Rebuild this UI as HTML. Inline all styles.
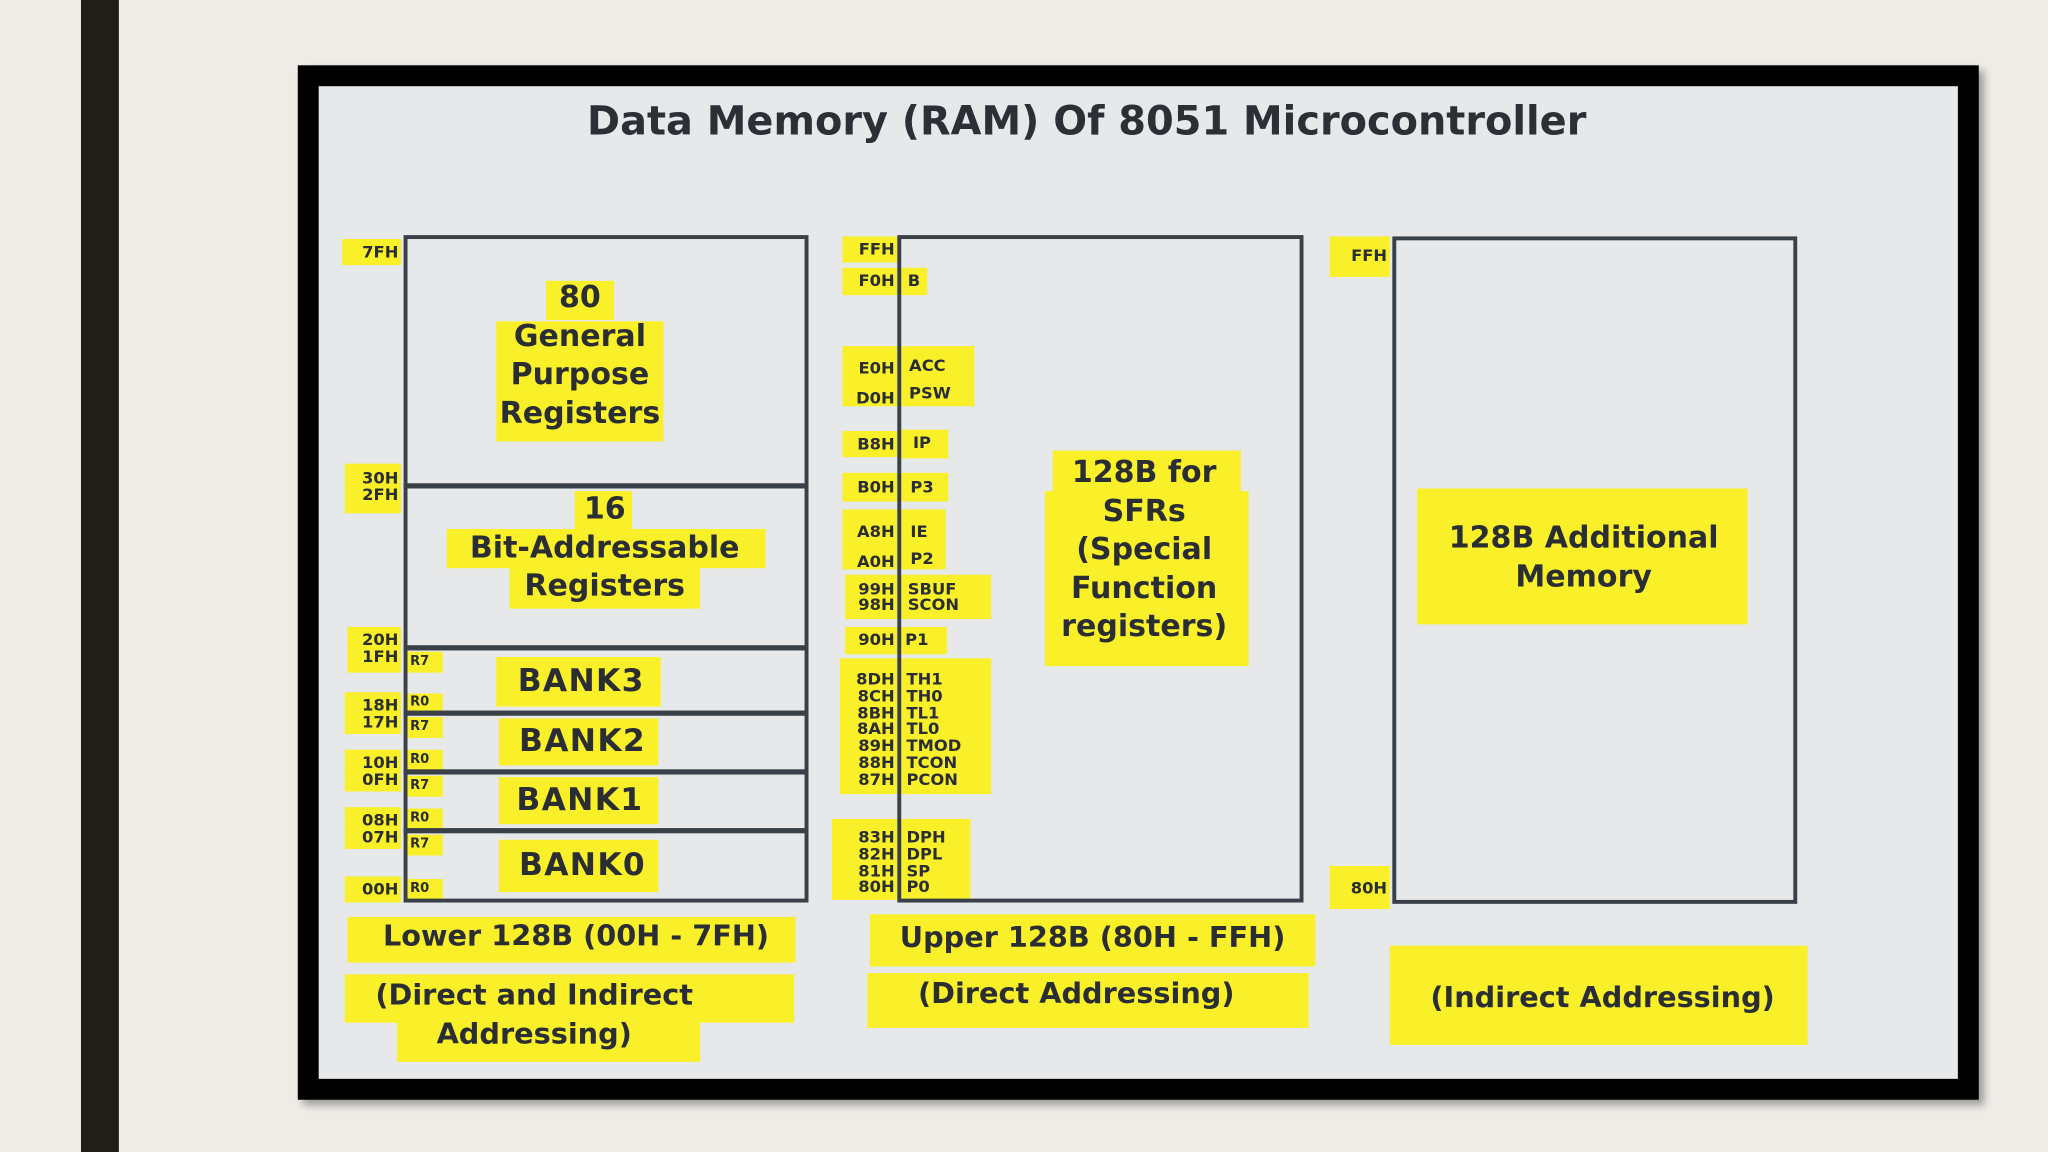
<!DOCTYPE html>
<html><head><meta charset="utf-8"><style>
html,body{margin:0;padding:0;width:2048px;height:1152px;overflow:hidden;background:#efece7;}
#s{position:absolute;left:0;top:0;width:1568px;height:882px;transform:scale(1.30612);transform-origin:0 0;font-family:"DejaVu Sans","Liberation Sans",sans-serif;font-weight:bold;color:#2a2e33;}
.a{position:absolute;}
.y{position:absolute;background:#f9f02a;box-sizing:border-box;}
.t{position:absolute;text-align:center;white-space:nowrap;}
.box{position:absolute;border:3px solid #394047;box-sizing:border-box;}
.hl{position:absolute;height:4px;background:#394047;}
.sm{position:absolute;font-size:12.5px;line-height:12.5px;text-align:right;white-space:pre;}
.sl{position:absolute;font-size:12.5px;line-height:12.5px;text-align:left;white-space:pre;}
.r{position:absolute;font-size:10px;line-height:10px;}
</style></head><body><div id="s">
<div class="a" style="left:62px;top:0;width:29px;height:882px;background:#1f1e17"></div>
<div class="a" style="left:228px;top:50px;width:1287px;height:792px;background:#000;box-shadow:4px 4px 6px rgba(0,0,0,.35)"></div>
<div class="a" style="left:244px;top:66px;width:1255px;height:760px;background:#e6e8ea"></div>
<div class="t" style="left:244px;width:1176px;top:76px;font-size:30.5px;line-height:36px;color:#2b2f36">Data Memory (RAM) Of 8051 Microcontroller</div>

<!-- LEFT -->
<div class="y" style="left:262px;top:183px;width:45px;height:20px"></div><div class="sm" style="left:262px;width:43px;top:187px">7FH</div>
<div class="y" style="left:264px;top:355px;width:43px;height:38px"></div><div class="sm" style="left:264px;width:41px;top:360px">30H
2FH</div>
<div class="y" style="left:266px;top:480px;width:41px;height:35px"></div><div class="sm" style="left:266px;width:39px;top:484px">20H
1FH</div>
<div class="y" style="left:264px;top:530px;width:43px;height:32px"></div><div class="sm" style="left:264px;width:41px;top:534px">18H
17H</div>
<div class="y" style="left:264px;top:574px;width:43px;height:32px"></div><div class="sm" style="left:264px;width:41px;top:578px">10H
0FH</div>
<div class="y" style="left:264px;top:618px;width:43px;height:32px"></div><div class="sm" style="left:264px;width:41px;top:622px">08H
07H</div>
<div class="y" style="left:264px;top:671px;width:43px;height:20px"></div><div class="sm" style="left:264px;width:41px;top:675px">00H</div>
<div class="y" style="left:311px;top:499px;width:28px;height:16px"></div><div class="r" style="left:314px;top:502px">R7</div>
<div class="y" style="left:311px;top:531px;width:28px;height:14px"></div><div class="r" style="left:314px;top:533px">R0</div>
<div class="y" style="left:311px;top:549px;width:28px;height:16px"></div><div class="r" style="left:314px;top:552px">R7</div>
<div class="y" style="left:311px;top:574px;width:28px;height:16px"></div><div class="r" style="left:314px;top:577px">R0</div>
<div class="y" style="left:311px;top:594px;width:28px;height:16px"></div><div class="r" style="left:314px;top:597px">R7</div>
<div class="y" style="left:311px;top:619px;width:28px;height:16px"></div><div class="r" style="left:314px;top:622px">R0</div>
<div class="y" style="left:311px;top:639px;width:28px;height:16px"></div><div class="r" style="left:314px;top:642px">R7</div>
<div class="y" style="left:311px;top:673px;width:28px;height:16px"></div><div class="r" style="left:314px;top:676px">R0</div>

<div class="box" style="left:309px;top:180px;width:310px;height:511px"></div>
<div class="hl" style="left:309px;top:370px;width:310px"></div>
<div class="hl" style="left:309px;top:494px;width:310px"></div>
<div class="hl" style="left:309px;top:544px;width:310px"></div>
<div class="hl" style="left:309px;top:589px;width:310px"></div>
<div class="hl" style="left:309px;top:634px;width:310px"></div>

<div class="y" style="left:418px;top:215px;width:52px;height:30px"></div>
<div class="y" style="left:380px;top:246px;width:128px;height:92px"></div>
<div class="t" style="left:330px;width:228px;top:214px;font-size:23px;line-height:29.5px">80<br>General<br>Purpose<br>Registers</div>
<div class="y" style="left:440px;top:376px;width:44px;height:30px"></div>
<div class="y" style="left:342px;top:405px;width:244px;height:30px"></div>
<div class="y" style="left:390px;top:434px;width:146px;height:32px"></div>
<div class="t" style="left:322px;width:282px;top:376px;font-size:23px;line-height:29.5px">16<br>Bit-Addressable<br>Registers</div>
<div class="y" style="left:380px;top:503px;width:126px;height:38px"></div><div class="t" style="left:380px;width:130px;top:506px;font-size:24px;line-height:30px;letter-spacing:1px">BANK3</div>
<div class="y" style="left:382px;top:550px;width:122px;height:36px"></div><div class="t" style="left:384px;width:124px;top:552px;font-size:24px;line-height:30px;letter-spacing:1px">BANK2</div>
<div class="y" style="left:382px;top:595px;width:122px;height:36px"></div><div class="t" style="left:382px;width:124px;top:597px;font-size:24px;line-height:30px;letter-spacing:1px">BANK1</div>
<div class="y" style="left:382px;top:643px;width:122px;height:40px"></div><div class="t" style="left:384px;width:124px;top:647px;font-size:24px;line-height:30px;letter-spacing:1px">BANK0</div>

<!-- MIDDLE -->
<div class="y" style="left:645px;top:181px;width:42px;height:20px"></div><div class="sm" style="left:645px;width:40px;top:185px">FFH</div>
<div class="y" style="left:645px;top:205px;width:42px;height:21px"></div><div class="sm" style="left:645px;width:40px;top:209px">F0H</div>
<div class="y" style="left:689px;top:205px;width:21px;height:21px"></div><div class="sl" style="left:695px;top:209px">B</div>
<div class="y" style="left:645px;top:265px;width:42px;height:46px"></div><div class="sm" style="left:645px;width:40px;top:270px;line-height:23px">E0H
D0H</div>
<div class="y" style="left:689px;top:265px;width:57px;height:46px"></div><div class="sl" style="left:696px;top:269px;line-height:21px">ACC
PSW</div>
<div class="y" style="left:645px;top:330px;width:42px;height:20px"></div><div class="sm" style="left:645px;width:40px;top:334px">B8H</div>
<div class="y" style="left:689px;top:329px;width:37px;height:22px"></div><div class="sl" style="left:699px;top:333px">IP</div>
<div class="y" style="left:645px;top:362px;width:42px;height:22px"></div><div class="sm" style="left:645px;width:40px;top:367px">B0H</div>
<div class="y" style="left:689px;top:362px;width:37px;height:22px"></div><div class="sl" style="left:697px;top:367px">P3</div>
<div class="y" style="left:645px;top:390px;width:42px;height:46px"></div><div class="sm" style="left:643px;width:42px;top:395px;line-height:23px">A8H
A0H</div>
<div class="y" style="left:689px;top:390px;width:35px;height:46px"></div><div class="sl" style="left:697px;top:396px;line-height:21px">IE
P2</div>
<div class="y" style="left:647px;top:440px;width:40px;height:34px"></div><div class="sm" style="left:647px;width:38px;top:445px;line-height:12px">99H
98H</div>
<div class="y" style="left:689px;top:440px;width:70px;height:34px"></div><div class="sl" style="left:695px;top:445px;line-height:12px">SBUF
SCON</div>
<div class="y" style="left:647px;top:480px;width:40px;height:21px"></div><div class="sm" style="left:647px;width:38px;top:484px">90H</div>
<div class="y" style="left:689px;top:480px;width:36px;height:21px"></div><div class="sl" style="left:693px;top:484px">P1</div>
<div class="y" style="left:643px;top:504px;width:44px;height:104px"></div><div class="sm" style="left:641px;width:44px;top:514px;line-height:12.8px">8DH
8CH
8BH
8AH
89H
88H
87H</div>
<div class="y" style="left:689px;top:504px;width:70px;height:104px"></div><div class="sl" style="left:694px;top:514px;line-height:12.8px">TH1
TH0
TL1
TL0
TMOD
TCON
PCON</div>
<div class="y" style="left:637px;top:627px;width:50px;height:62px"></div><div class="sm" style="left:637px;width:48px;top:635px;line-height:12.8px">83H
82H
81H
80H</div>
<div class="y" style="left:689px;top:627px;width:54px;height:62px"></div><div class="sl" style="left:694px;top:635px;line-height:12.8px">DPH
DPL
SP
P0</div>

<div class="box" style="left:687px;top:180px;width:311px;height:511px"></div>
<div class="y" style="left:806px;top:345px;width:144px;height:32px"></div>
<div class="y" style="left:800px;top:376px;width:156px;height:134px"></div>
<div class="t" style="left:796px;width:160px;top:348px;font-size:23px;line-height:29.5px">128B for<br>SFRs<br>(Special<br>Function<br>registers)</div>

<!-- RIGHT -->
<div class="y" style="left:1018px;top:181px;width:46px;height:31px"></div><div class="sm" style="left:1018px;width:44px;top:190px">FFH</div>
<div class="y" style="left:1018px;top:663px;width:46px;height:33px"></div><div class="sm" style="left:1018px;width:44px;top:674px">80H</div>
<div class="box" style="left:1066px;top:181px;width:310px;height:511px"></div>
<div class="y" style="left:1085px;top:374px;width:253px;height:104px"></div>
<div class="t" style="left:1085px;width:255px;top:398px;font-size:23px;line-height:29.5px">128B Additional<br>Memory</div>

<!-- BOTTOM -->
<div class="y" style="left:266px;top:702px;width:343px;height:35px"></div>
<div class="t" style="left:266px;width:350px;top:704px;font-size:22px;line-height:28px">Lower 128B (00H - 7FH)</div>
<div class="y" style="left:264px;top:746px;width:344px;height:37px"></div>
<div class="y" style="left:304px;top:778px;width:232px;height:35px"></div>
<div class="t" style="left:254px;width:310px;top:748px;font-size:22px;line-height:29.5px">(Direct and Indirect<br>Addressing)</div>
<div class="y" style="left:666px;top:700px;width:341px;height:40px"></div>
<div class="t" style="left:666px;width:341px;top:705px;font-size:22px;line-height:28px">Upper 128B (80H - FFH)</div>
<div class="y" style="left:664px;top:745px;width:338px;height:42px"></div>
<div class="t" style="left:664px;width:320px;top:748px;font-size:22px;line-height:28px">(Direct Addressing)</div>
<div class="y" style="left:1064px;top:724px;width:320px;height:76px"></div>
<div class="t" style="left:1064px;width:326px;top:751px;font-size:22px;line-height:28px">(Indirect Addressing)</div>
</div></body></html>
